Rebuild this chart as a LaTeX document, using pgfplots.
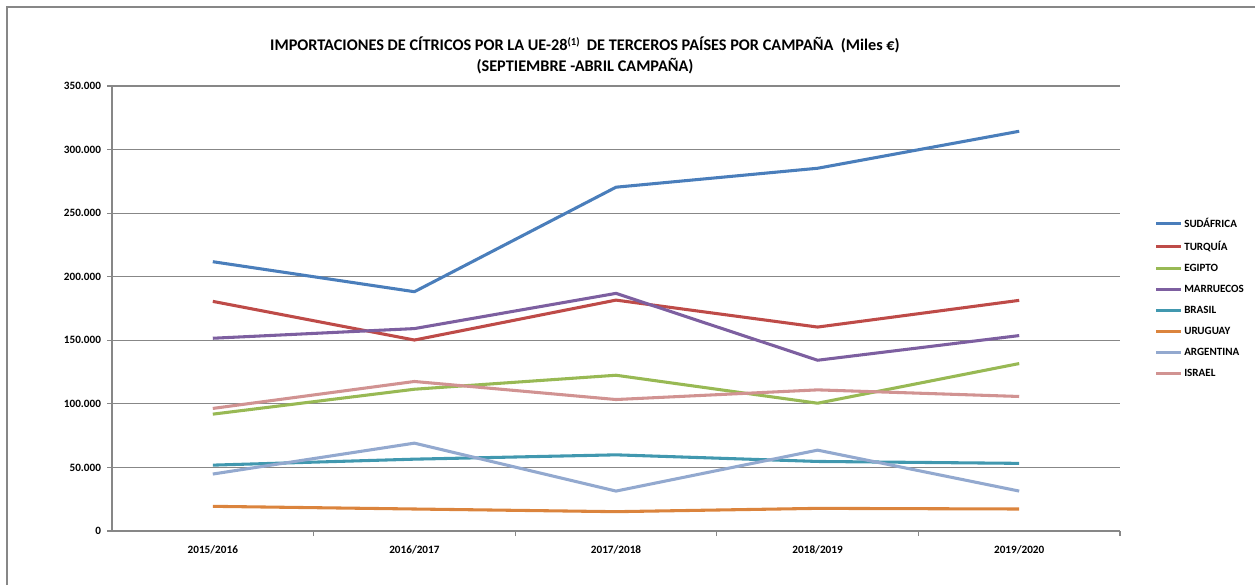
\documentclass[border=0pt]{standalone}
\usepackage{pgfplots}
\pgfplotsset{compat=1.18}
\usepackage{fontspec}
\setmainfont{Carlito}

\definecolor{csud}{HTML}{4A7EBB}
\definecolor{ctur}{HTML}{BE4B48}
\definecolor{cegi}{HTML}{98B954}
\definecolor{cmar}{HTML}{7D5FA0}
\definecolor{cbra}{HTML}{4198AF}
\definecolor{curu}{HTML}{DB843D}
\definecolor{carg}{HTML}{93A9CF}
\definecolor{cisr}{HTML}{D19392}
\definecolor{cgrid}{HTML}{878787}

\begin{document}
\begin{tikzpicture}
\useasboundingbox (0,0) rectangle (941.25pt,438.75pt);
\draw[cgrid,line width=0.8pt] (5.25pt,0) -- (5.25pt,433.5pt) -- (941.25pt,433.5pt);

\node[font=\bfseries\fontsize{12.2}{15.75}\selectfont,align=center] at (438.75pt,397.5pt)
  {IMPORTACIONES DE CÍTRICOS POR LA UE-28{\fontsize{8}{8}\selectfont\raisebox{3.5pt}{(1)}}\ \ DE TERCEROS PAÍSES POR CAMPAÑA\ \ (Miles €)\\
   (SEPTIEMBRE -ABRIL CAMPAÑA)};

\begin{axis}[
  at={(84pt,40.5pt)}, anchor=south west,
  scale only axis, width=756pt, height=333.75pt,
  xmin=-0.5, xmax=4.5, ymin=0, ymax=350000,
  axis x line*=bottom, axis y line*=left,
  axis line style={cgrid,line width=0.8pt},
  every outer x axis line/.append style={-}, every outer y axis line/.append style={-},
  xtick={0,1,2,3,4},
  xticklabels={2015/2016,2016/2017,2017/2018,2018/2019,2019/2020},
  minor xtick={0.5,1.5,2.5,3.5,4.5},
  ytick={0,50000,100000,150000,200000,250000,300000,350000},
  yticklabels={0,50.000,100.000,150.000,200.000,250.000,300.000,350.000},
  scaled y ticks=false,
  tick align=outside,
  major tick length=3.75pt, minor tick length=3.75pt,
  x tick style={draw=none}, minor x tick style={draw=cgrid,line width=0.8pt},
  y tick style={cgrid,line width=0.8pt},
  ymajorgrids, grid style={cgrid,line width=0.8pt},
  tick label style={font=\bfseries\fontsize{8.4}{10}\selectfont},
  xticklabel style={yshift=-4pt},
  yticklabel style={xshift=-1pt},
  legend style={at={(1.034,0.71)}, anchor=north west, draw=none, fill=none,
    inner sep=0pt, font=\bfseries\fontsize{8.3}{10}\selectfont,
    row sep=4.8pt, nodes={inner xsep=1pt}},
  legend cell align=left,
  legend image code/.code={\draw[#1] (0pt,0pt) -- (19pt,0pt);},
  every axis plot/.append style={line width=2.3pt, line join=round, mark=none},
]
\addplot[csud] coordinates {(0,211800) (1,188200) (2,270400) (3,285300) (4,314400)};
\addplot[ctur] coordinates {(0,180600) (1,150200) (2,181600) (3,160400) (4,181400)};
\addplot[cegi] coordinates {(0,91900) (1,111500) (2,122500) (3,100500) (4,131700)};
\addplot[cmar] coordinates {(0,151600) (1,159200) (2,186900) (3,134300) (4,153700)};
\addplot[cbra] coordinates {(0,51800) (1,56500) (2,59900) (3,54700) (4,53200)};
\addplot[curu] coordinates {(0,19400) (1,17300) (2,15200) (3,17800) (4,17300)};
\addplot[carg] coordinates {(0,44800) (1,69100) (2,31400) (3,63600) (4,31400)};
\addplot[cisr] coordinates {(0,96400) (1,117600) (2,103400) (3,111000) (4,105800)};
\legend{SUDÁFRICA,TURQUÍA,EGIPTO,MARRUECOS,BRASIL,URUGUAY,ARGENTINA,ISRAEL}
\end{axis}
\end{tikzpicture}
\end{document}
